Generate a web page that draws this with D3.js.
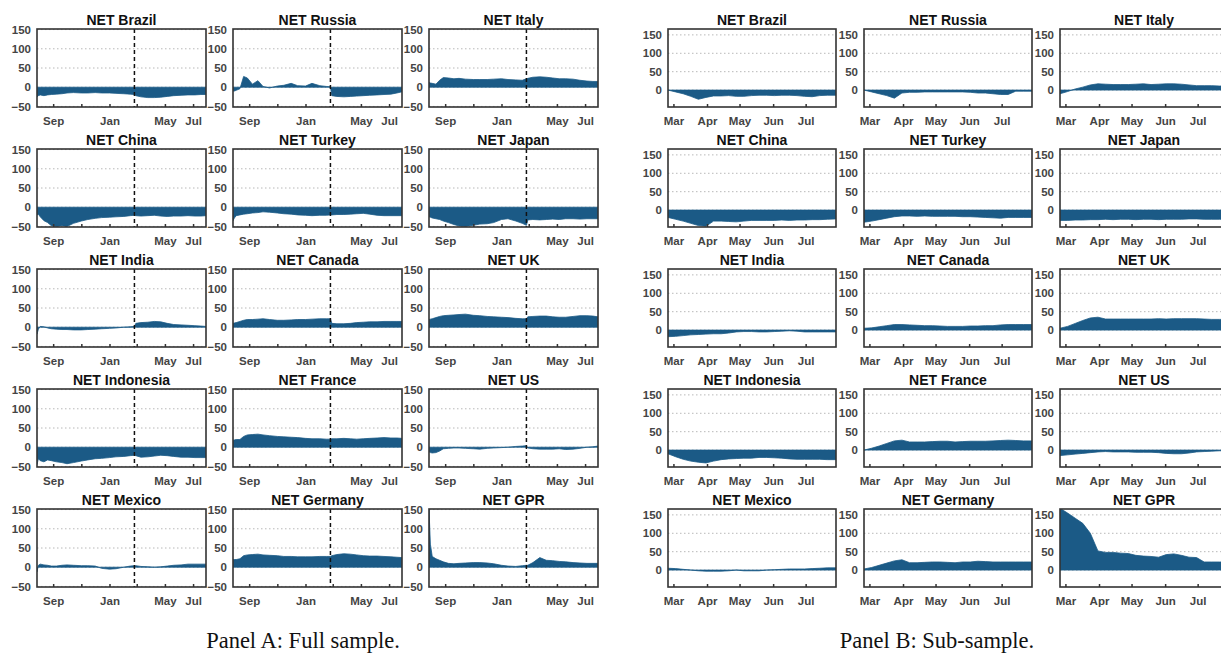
<!DOCTYPE html>
<html><head><meta charset="utf-8">
<script src="https://cdn.jsdelivr.net/npm/d3@7"></script>
<style>body{margin:0;background:#fff}svg{display:block}</style>
</head><body>
<svg id="c" width="1221" height="653"></svg>
<script>
// ---------------- DATA ----------------
const countries = ["Brazil","Russia","Italy","China","Turkey","Japan","India","Canada","UK","Indonesia","France","US","Mexico","Germany","GPR"];

// Panel A: full sample
const datesA = ["2021-07-28","2021-07-31","2021-08-04","2021-08-12","2021-08-20","2021-08-28","2021-09-08","2021-09-20","2021-10-01","2021-10-15","2021-11-01","2021-11-15","2021-12-01","2021-12-15","2022-01-01","2022-01-15","2022-02-01","2022-02-15","2022-02-24","2022-02-27","2022-03-10","2022-03-25","2022-04-08","2022-04-22","2022-05-06","2022-05-20","2022-06-05","2022-06-20","2022-07-05","2022-07-18","2022-07-29"];
const fullBrazil    = [-25,-22,-20,-22,-20,-19,-18,-17,-15,-14,-15,-15,-14,-15,-15,-16,-17,-18,-19,-22,-25,-27,-27,-26,-24,-22,-21,-20,-20,-19,-19];
const fullRussia    = [-10,-10,-8,-4,28,24,8,17,2,-2,3,5,10,4,3,10,4,2,1,-22,-24,-25,-24,-23,-22,-21,-20,-19,-18,-15,-12];
const fullItaly     = [12,11,10,8,18,25,24,22,23,21,20,20,20,21,22,20,19,18,22,23,26,27,26,24,22,22,21,18,16,15,15];
const fullChina     = [-20,-18,-25,-35,-40,-48,-50,-48,-50,-42,-36,-32,-29,-27,-26,-25,-24,-22,-21,-22,-23,-22,-21,-23,-24,-23,-23,-22,-23,-23,-22];
const fullTurkey    = [-35,-28,-22,-20,-18,-17,-15,-14,-12,-13,-15,-17,-18,-20,-21,-22,-21,-21,-20,-20,-19,-19,-18,-17,-16,-18,-21,-22,-22,-22,-22];
const fullJapan     = [-25,-26,-28,-30,-32,-36,-40,-45,-49,-50,-47,-44,-43,-40,-32,-30,-36,-42,-47,-33,-32,-33,-32,-31,-32,-30,-30,-31,-30,-30,-30];
const fullIndia     = [-18,-5,2,1,-2,-4,-5,-6,-6,-7,-7,-6,-5,-4,-3,-2,0,1,2,10,12,13,15,14,10,7,6,5,4,3,2];
const fullCanada    = [10,11,12,15,18,20,20,21,22,20,18,18,19,20,20,21,22,22,22,10,9,9,10,12,13,14,14,15,15,15,15];
const fullUK        = [20,21,22,25,28,30,31,32,33,34,31,30,28,27,26,25,23,22,22,27,28,29,29,27,26,26,28,30,30,29,27];
const fullIndonesia = [-45,-30,-35,-38,-33,-35,-38,-40,-43,-40,-36,-33,-30,-29,-27,-25,-24,-22,-21,-22,-26,-25,-23,-21,-22,-24,-26,-26,-27,-27,-27];
const fullFrance    = [18,19,20,20,28,32,33,34,32,30,28,27,26,25,23,22,22,21,21,22,22,23,22,21,22,23,24,25,24,24,23];
const fullUS        = [-12,-14,-15,-14,-10,-4,-3,-2,-2,-3,-4,-5,-3,-2,-1,0,2,3,4,-2,-4,-5,-5,-5,-4,-6,-5,-3,0,1,3];
const fullMexico    = [-12,5,8,6,5,3,3,5,6,5,4,4,3,-3,-5,-4,0,3,4,4,2,1,0,1,3,5,6,8,8,8,8];
const fullGermany   = [20,20,20,22,30,32,33,34,32,31,30,28,28,27,27,27,28,28,28,30,33,35,34,32,30,29,29,28,27,26,25];
const fullGPR       = [150,60,28,22,18,14,10,9,10,11,12,12,11,9,5,3,2,4,5,5,12,25,18,17,15,14,12,11,10,10,10];
const tickDatesA  = ["2021-09-01","2021-11-01","2022-01-01","2022-03-01","2022-05-01","2022-07-01"];
const tickLabelsA = ["Sep","","Jan","","May","Jul"];
const yTicksA = [-50,0,50,100,150];
const eventDate = "2022-02-24";

// Panel B: sub-sample
const datesB = ["2022-02-24","2022-03-03","2022-03-10","2022-03-17","2022-03-24","2022-03-31","2022-04-07","2022-04-14","2022-04-21","2022-04-28","2022-05-05","2022-05-12","2022-05-19","2022-05-26","2022-06-02","2022-06-09","2022-06-16","2022-06-23","2022-06-30","2022-07-07","2022-07-14","2022-07-21","2022-07-29"];
const subBrazil    = [0,-5,-10,-17,-25,-20,-16,-16,-15,-17,-17,-15,-14,-14,-15,-14,-14,-15,-17,-18,-15,-14,-14];
const subRussia    = [0,-5,-10,-15,-22,-8,-6,-6,-5,-5,-5,-5,-5,-5,-6,-8,-8,-10,-12,-12,-3,-3,-3];
const subItaly     = [-10,-4,3,8,14,17,16,15,15,15,16,17,15,16,17,17,16,14,12,12,12,11,11];
const subChina     = [-20,-25,-30,-36,-42,-44,-30,-30,-31,-32,-30,-28,-28,-28,-28,-27,-28,-27,-27,-26,-26,-25,-24];
const subTurkey    = [-33,-30,-26,-22,-18,-16,-16,-17,-16,-17,-17,-17,-17,-18,-18,-19,-20,-21,-22,-20,-20,-20,-20];
const subJapan     = [-28,-28,-27,-27,-26,-26,-25,-26,-25,-25,-26,-25,-25,-26,-25,-25,-25,-24,-24,-25,-25,-25,-25];
const subIndia     = [-18,-17,-15,-13,-12,-11,-10,-10,-8,-5,-4,-4,-5,-5,-4,-3,-2,-3,-5,-5,-5,-5,-5];
const subCanada    = [5,6,9,12,15,15,14,13,12,12,11,10,10,10,11,11,12,12,14,15,15,15,15];
const subUK        = [5,10,18,26,33,35,30,30,30,30,30,30,30,31,30,31,31,31,31,30,29,29,29];
const subIndonesia = [-10,-18,-25,-30,-33,-35,-30,-26,-24,-23,-22,-22,-20,-20,-21,-22,-24,-25,-25,-25,-25,-26,-26];
const subFrance    = [0,5,11,18,25,27,22,22,22,23,24,24,22,23,24,24,24,25,26,27,26,25,25];
const subUS        = [-15,-13,-11,-9,-7,-5,-4,-5,-5,-5,-6,-6,-6,-7,-9,-10,-10,-8,-5,-4,-3,-2,-2];
const subMexico    = [5,4,2,0,-2,-3,-3,-3,-2,0,-2,-2,-2,0,1,2,3,3,3,4,5,6,6];
const subGermany   = [3,7,13,19,25,28,20,20,21,22,22,21,20,22,22,24,23,22,22,22,22,22,22];
const subGPR       = [168,155,141,127,100,52,48,48,46,45,40,38,37,35,42,44,40,35,34,22,22,22,22];
const tickDatesB  = ["2022-03-01","2022-04-01","2022-05-01","2022-06-01","2022-07-01"];
const tickLabelsB = ["Mar","Apr","May","Jun","Jul"];
const yTicksB = [0,50,100,150];

const captions = ["Panel A: Full sample.","Panel B: Sub-sample."];

// ---------------- DRAW ----------------
const seriesA = [fullBrazil,fullRussia,fullItaly,fullChina,fullTurkey,fullJapan,fullIndia,fullCanada,fullUK,fullIndonesia,fullFrance,fullUS,fullMexico,fullGermany,fullGPR];
const seriesB = [subBrazil,subRussia,subItaly,subChina,subTurkey,subJapan,subIndia,subCanada,subUK,subIndonesia,subFrance,subUS,subMexico,subGermany,subGPR];
const parse = d3.timeParse("%Y-%m-%d");
const svg = d3.select("#c");
const FILL = "#1b5a86";
const FONT = "'Liberation Sans', Arial, sans-serif";

const panels = [
  {dates: datesA, series: seriesA, x0: 37, w: 169, colStep: 196, dom: [parse("2021-07-28"), parse("2022-07-29")],
   yDom: [-51.5, 151.5], yTicks: yTicksA, tickDates: tickDatesA, tickLabels: tickLabelsA, event: true, capX: 303},
  {dates: datesB, series: seriesB, x0: 668, w: 168, colStep: 196, dom: [parse("2022-02-24"), parse("2022-07-29")],
   yDom: [-46, 166], yTicks: yTicksB, tickDates: tickDatesB, tickLabels: tickLabelsB, event: false, capX: 937}
];
const rowTop0 = 29, rowStep = 120, H = 78;

let clipId = 0;
panels.forEach((P, pi) => {
  const dates = P.dates.map(parse);
  P.series.forEach((vals, i) => {
    const r = Math.floor(i / 3), c = i % 3;
    const left = P.x0 + c * P.colStep, top = rowTop0 + r * rowStep;
    const x = d3.scaleTime().domain(P.dom).range([left, left + P.w]);
    const y = d3.scaleLinear().domain(P.yDom).range([top + H, top]);
    const g = svg.append("g");
    const id = "clip" + (clipId++);
    g.append("clipPath").attr("id", id).append("rect")
      .attr("x", left).attr("y", top).attr("width", P.w).attr("height", H);

    // grid
    g.append("g").selectAll("line").data(P.yTicks).join("line")
      .attr("x1", left).attr("x2", left + P.w)
      .attr("y1", d => y(d)).attr("y2", d => y(d))
      .attr("stroke", "#b8b8b8").attr("stroke-width", 1).attr("stroke-dasharray", "1.5,2.5");

    // area
    const data = dates.map((d, k) => ({d, v: vals[k]}));
    const area = d3.area().x(p => x(p.d)).y0(y(0)).y1(p => y(p.v));
    g.append("path").datum(data).attr("d", area)
      .attr("fill", FILL).attr("stroke", FILL).attr("stroke-width", 0.8)
      .attr("clip-path", `url(#${id})`);

    // event line
    if (P.event) {
      const ex = x(parse(eventDate));
      g.append("line").attr("x1", ex).attr("x2", ex).attr("y1", top).attr("y2", top + H)
        .attr("stroke", "#111").attr("stroke-width", 1.5).attr("stroke-dasharray", "4,3");
    }

    // x axis
    const xa = d3.axisBottom(x).tickValues(P.tickDates.map(parse))
      .tickFormat((d, k) => P.tickLabels[k]).tickSizeInner(-3).tickSizeOuter(0).tickPadding(10);
    const gx = g.append("g").attr("transform", `translate(0,${top + H})`).call(xa);
    gx.select(".domain").remove();
    gx.selectAll("line").attr("stroke", "#333").attr("stroke-width", 1.5);
    gx.selectAll("text").attr("font-family", FONT).attr("font-size", 11.5).attr("font-weight", "bold").attr("fill", "#444");

    // y axis
    const ya = d3.axisLeft(y).tickValues(P.yTicks).tickSizeInner(0).tickSizeOuter(0).tickPadding(6);
    const gy = g.append("g").attr("transform", `translate(${left},0)`).call(ya);
    gy.select(".domain").remove();
    gy.selectAll("text").attr("font-family", FONT).attr("font-size", 11.5).attr("font-weight", "bold").attr("fill", "#444");

    // box
    g.append("rect").attr("x", left).attr("y", top).attr("width", P.w).attr("height", H)
      .attr("fill", "none").attr("stroke", "#333").attr("stroke-width", 1.6);

    // title
    g.append("text").attr("x", left + P.w / 2).attr("y", top - 4).attr("text-anchor", "middle")
      .attr("font-family", FONT).attr("font-size", 14).attr("font-weight", "bold").attr("fill", "#111")
      .text("NET " + countries[i]);
  });

  svg.append("text").attr("x", P.capX).attr("y", 648).attr("text-anchor", "middle")
    .attr("font-family", "'Liberation Serif', 'Times New Roman', serif").attr("font-size", 22.5).attr("fill", "#111")
    .text(captions[pi]);
});
</script>
</body></html>
